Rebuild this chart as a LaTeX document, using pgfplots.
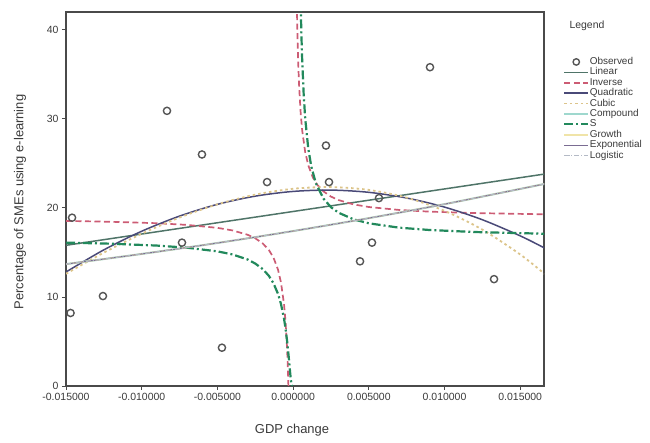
\documentclass[border=0pt]{standalone}
\usepackage{pgfplots}
\pgfplotsset{compat=1.18}
\usepackage{fontspec}
\setmainfont{Liberation Sans}
\definecolor{cLin}{HTML}{4F7468}
\definecolor{cInv}{HTML}{CC5C74}
\definecolor{cQuad}{HTML}{4A4A78}
\definecolor{cCub}{HTML}{DCC48A}
\definecolor{cComp}{HTML}{9FD8CE}
\definecolor{cS}{HTML}{22895C}
\definecolor{cGro}{HTML}{F0E4A8}
\definecolor{cExp}{HTML}{7A6C92}
\definecolor{cLog}{HTML}{B4BAC6}
\definecolor{cAx}{HTML}{4A4A4A}
\definecolor{cTxt}{HTML}{3A3A3A}
\definecolor{cObs}{HTML}{555555}

\pgfplotstableread{
x y
-0.015 13.69
-0.010 14.83
-0.005 16.06
0.000 17.40
0.005 18.85
0.010 20.42
0.0166 22.69
}\compound

\begin{document}
\begin{tikzpicture}
\useasboundingbox (-66bp,-57bp) rectangle (584bp,386bp);
\begin{axis}[
  at={(0bp,0bp)}, anchor=south west,
  scale only axis, width=478bp, height=374bp,
  xmin=-0.015, xmax=0.01657, ymin=0, ymax=42,
  axis line style={cAx, line width=1.3bp},
  xtick={-0.015,-0.010,-0.005,0,0.005,0.010,0.015},
  ytick={0,10,20,30,40},
  scaled x ticks=false,
  xtick pos=left, ytick pos=left,
  tick align=outside,
  major tick length=4bp,
  tick style={cAx, line width=0.9bp},
  xticklabel style={font=\fontsize{10.5}{12}\selectfont, text=cTxt,
    /pgf/number format/.cd, fixed, fixed zerofill, precision=6, assume math mode=true},
  yticklabel style={font=\fontsize{10.5}{12}\selectfont, text=cTxt,
    /pgf/number format/assume math mode=true},
  clip mode=individual,
  legend cell align=left,
  legend style={at={(1.0397,0.879)}, anchor=north west, draw=none, fill=none,
    inner sep=0pt, row sep=1.4bp,
    font=\fontsize{10}{11}\selectfont, text=cTxt,
    nodes={inner sep=0.5bp, text height=6.5bp, text depth=1.5bp}},
  legend image code/.code={\draw[mark repeat=2,mark phase=2,#1] plot coordinates {(0bp,0bp) (12bp,0bp) (24bp,0bp)};},
]
\addlegendimage{only marks, mark=o, mark size=3.2bp, draw=cObs, line width=1.4bp}
\addlegendentry{Observed}

% Linear
\addplot[cLin, line width=1.5bp] coordinates {(-0.015,15.80) (0.0166,23.80)};
\addlegendentry{Linear}

% Inverse
\addplot[cInv, line width=1.7bp, dash pattern=on 6bp off 3.5bp] coordinates {
(-0.015,18.54) (-0.012,18.44) (-0.009,18.28) (-0.007,18.09) (-0.005,17.76)
(-0.004,17.47) (-0.003,16.98) (-0.0025,16.59) (-0.002,16.00) (-0.0016,15.27)
(-0.0013,14.43) (-0.001,13.08) (-0.0008,11.61) (-0.0006,9.17) (-0.0005,7.22)
(-0.0004,4.29) (-0.00035,2.20) (-0.0003,-0.59) (-0.00027,-2.76)};
\addlegendentry{Inverse}
\addplot[cInv, line width=1.7bp, dash pattern=on 6bp off 3.5bp, forget plot] coordinates {
(0.000225,44.95) (0.00025,42.35) (0.0003,38.45) (0.00035,35.66) (0.0004,33.57)
(0.0005,30.64) (0.0006,28.69) (0.0008,26.25) (0.001,24.79) (0.0013,23.43)
(0.0016,22.59) (0.002,21.86) (0.0025,21.27) (0.003,20.88) (0.004,20.39)
(0.005,20.10) (0.007,19.77) (0.009,19.58) (0.012,19.42) (0.0166,19.28)};

% Quadratic
\addplot[cQuad, line width=1.5bp, smooth] coordinates {
(-0.015,12.80) (-0.0125,15.29) (-0.010,17.38) (-0.0075,19.08) (-0.005,20.40)
(-0.0025,21.32) (0,21.85) (0.0025,22.00) (0.005,21.75) (0.0075,21.11)
(0.010,20.09) (0.0125,18.67) (0.015,16.86) (0.0166,15.50)};
\addlegendentry{Quadratic}

% Cubic
\addplot[cCub, line width=1.8bp, dash pattern=on 2.5bp off 3bp, smooth] coordinates {
(-0.015,12.60) (-0.0125,14.98) (-0.010,17.10) (-0.0075,18.92) (-0.005,20.40)
(-0.0025,21.49) (0,22.15) (0.0025,22.34) (0.005,22.02) (0.0075,21.15)
(0.010,19.67) (0.0125,17.56) (0.015,14.77) (0.0166,12.60)};
\addlegendentry{Cubic}

% Compound
\addplot[cComp, line width=2bp, smooth] table {\compound};
\addlegendentry{Compound}

% S
\addplot[cS, line width=2.2bp, dash pattern=on 9bp off 3bp on 2bp off 3bp] coordinates {
(-0.015,16.10) (-0.012,15.98) (-0.009,15.77) (-0.007,15.53) (-0.005,15.12)
(-0.004,14.77) (-0.003,14.20) (-0.0025,13.75) (-0.002,13.12) (-0.0016,12.37)
(-0.0013,11.55) (-0.001,10.36) (-0.0008,9.20) (-0.0006,7.56) (-0.0005,6.45)
(-0.0004,5.09) (-0.0003,3.43) (-0.00025,2.51) (-0.0002,1.56) (-0.00015,0.71)
(-0.0001,0.15) (-0.00005,0.00)};
\addlegendentry{S}
\addplot[cS, line width=2.2bp, dash pattern=on 9bp off 3bp on 2bp off 3bp, forget plot] coordinates {
(0.000475,44.99) (0.0005,42.80) (0.00055,39.28) (0.0006,36.56) (0.0007,32.67)
(0.0008,30.02) (0.001,26.67) (0.0012,24.65) (0.0015,22.78) (0.002,21.05)
(0.0025,20.08) (0.003,19.46) (0.004,18.71) (0.005,18.27) (0.007,17.78)
(0.009,17.52) (0.012,17.29) (0.0166,17.10)};

% Growth
\addplot[cGro, line width=1.5bp, smooth] table {\compound};
\addlegendentry{Growth}

% Exponential
\addplot[cExp, line width=1.0bp, smooth] table {\compound};
\addlegendentry{Exponential}

% Logistic
\addplot[cLog, line width=1.1bp, dash pattern=on 5bp off 2bp on 1bp off 2bp, smooth] table {\compound};
\addlegendentry{Logistic}

% Observed points drawn on top
\addplot[only marks, mark=o, mark size=3.6bp, draw=cObs, line width=1.4bp, forget plot] coordinates {
(-0.0146,18.9) (-0.0147,8.2) (-0.01256,10.1) (-0.00833,30.9) (-0.00602,26.0)
(-0.00734,16.1) (-0.00470,4.3) (-0.00172,22.9) (0.00904,35.8) (0.00217,27.0)
(0.00237,22.9) (0.00567,21.1) (0.00521,16.1) (0.00442,14.0) (0.01327,12.0)};
\end{axis}
\node[font=\fontsize{13}{15}\selectfont, text=cTxt] at (226bp,-44bp) {GDP change};
\node[font=\fontsize{13}{15}\selectfont, text=cTxt, rotate=90] at (-46bp,184bp) {Percentage of SMEs using e-learning};
\node[font=\fontsize{10.5}{12}\selectfont, text=cTxt, anchor=west] at (500bp,360bp) {Legend};
\end{tikzpicture}
\end{document}
